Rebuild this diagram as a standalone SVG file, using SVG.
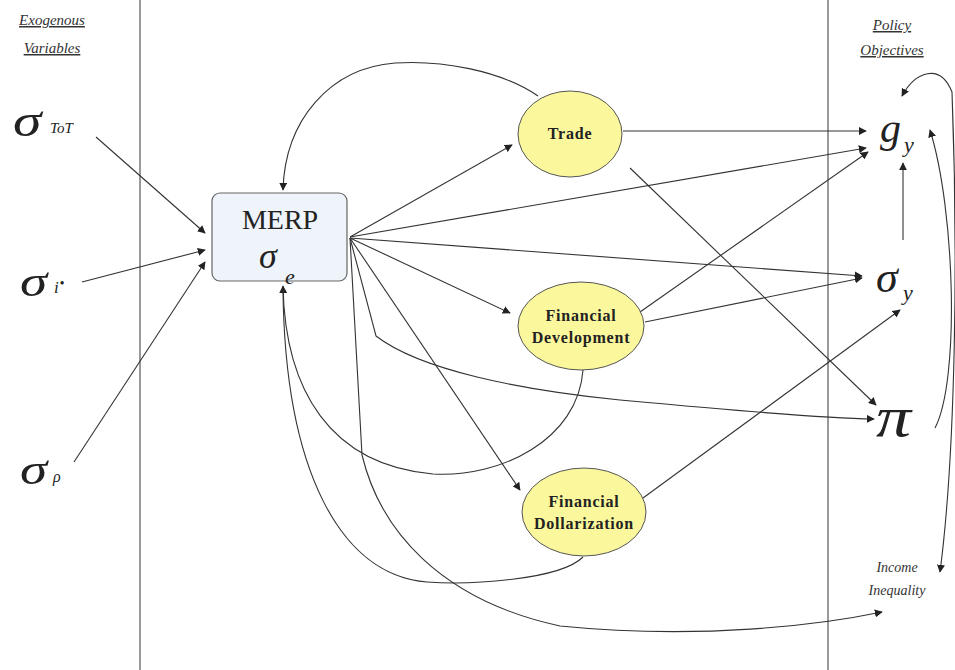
<svg xmlns="http://www.w3.org/2000/svg" width="955" height="670" viewBox="0 0 955 670">
<style>
.c{fill:none;stroke:#333;stroke-width:1.1}
.a{marker-end:url(#ah)}
.node{fill:#fbf79c;stroke:#555;stroke-width:1}
.nt{font-size:16px;font-weight:bold;fill:#222;text-anchor:middle;letter-spacing:0.8px}
.hd{font-size:15px;font-style:italic;fill:#333;text-anchor:middle;text-decoration:underline}
.sym{font-style:italic;fill:#222}
.lbl{font-size:14px;font-style:italic;fill:#333;text-anchor:middle}
</style>
<defs>
<marker id="ah" viewBox="0 0 10 10" refX="9" refY="5" markerWidth="8" markerHeight="8" markerUnits="userSpaceOnUse" orient="auto-start-reverse">
<path d="M0,0 L10,5 L0,10 z" fill="#222"/>
</marker>
</defs>
<rect width="955" height="670" fill="#fff"/>
<line x1="140" y1="0" x2="140" y2="670" stroke="#777" stroke-width="1.5"/>
<line x1="828" y1="0" x2="828" y2="670" stroke="#777" stroke-width="1.5"/>
<g id="headers" font-family="Liberation Serif, serif">
<text class="hd" x="52" y="25">Exogenous</text>
<text class="hd" x="52" y="53">Variables</text>
<text class="hd" x="892" y="30">Policy</text>
<text class="hd" x="892" y="55">Objectives</text>
</g>
<g id="connectors">
<line class="c a" x1="96" y1="137" x2="205" y2="233"/>
<line class="c a" x1="82" y1="282" x2="205" y2="250"/>
<line class="c a" x1="74" y1="462" x2="205" y2="262"/>
<path class="c a" d="M538,96 C500,70 440,60 395,63 C330,68 285,120 283,190"/>
<line class="c a" x1="350" y1="237" x2="512" y2="145"/>
<line class="c a" x1="350" y1="237" x2="866" y2="148"/>
<line class="c a" x1="350" y1="238" x2="862" y2="276"/>
<line class="c a" x1="350" y1="238" x2="510" y2="313"/>
<line class="c a" x1="350" y1="238" x2="520" y2="490"/>
<path class="c a" d="M350,238 L376,336 C420,370 520,390 620,400 C730,410 820,418 874,419"/>
<path class="c a" d="M350,238 L362,455 C380,530 440,600 560,626 C700,640 820,625 882,612"/>
<path class="c a" d="M583,370 C578,440 500,478 433,474 C330,465 285,390 283,286"/>
<path class="c" d="M583,557 C560,580 470,585 427,582 C340,575 285,470 283,290"/>
<line class="c a" x1="623" y1="131" x2="866" y2="131"/>
<line class="c a" x1="630" y1="168" x2="876" y2="405"/>
<line class="c a" x1="640" y1="312" x2="868" y2="152"/>
<line class="c a" x1="645" y1="322" x2="862" y2="278"/>
<line class="c a" x1="643" y1="498" x2="900" y2="310"/>
<line class="c a" x1="903" y1="240" x2="903" y2="163"/>
<path class="c a" d="M935,428 C960,380 955,210 930,130"/>
<path class="c" style="marker-start:url(#ah);marker-end:url(#ah)" d="M902,96 C915,72 940,62 952,92 C958,250 956,450 940,572"/>
</g>
<g id="merp">
<rect x="212" y="193" width="135" height="88" rx="8" fill="#eef4f9" stroke="#666" stroke-width="1.2"/>
<text x="280" y="229" font-family="Liberation Serif, serif" font-size="28" fill="#222" text-anchor="middle">MERP</text>
<text class="sym" x="259" y="268" font-family="Liberation Serif, serif" font-size="36">σ</text>
<text class="sym" x="285" y="284" font-family="Liberation Serif, serif" font-size="22">e</text>
</g>
<g id="trade" font-family="Liberation Serif, serif">
<ellipse class="node" cx="570" cy="134" rx="52" ry="43"/>
<text class="nt" x="570" y="139">Trade</text>
</g>
<g id="findev" font-family="Liberation Serif, serif">
<ellipse class="node" cx="581" cy="326" rx="63" ry="44"/>
<text class="nt" x="581" y="321">Financial</text>
<text class="nt" x="581" y="343">Development</text>
</g>
<g id="findoll" font-family="Liberation Serif, serif">
<ellipse class="node" cx="584" cy="512" rx="62" ry="44"/>
<text class="nt" x="584" y="507">Financial</text>
<text class="nt" x="584" y="529">Dollarization</text>
</g>
<g id="sigma_tot" font-family="Liberation Serif, serif">
<text class="sym" transform="translate(13,136) scale(1.25,1)" font-size="46">σ</text>
<text class="sym" x="50" y="133" font-size="15">ToT</text>
</g>
<g id="sigma_i" font-family="Liberation Serif, serif">
<text class="sym" transform="translate(20,296) scale(1.25,1)" font-size="44">σ</text>
<text class="sym" x="54" y="293" font-size="17">i</text>
<text x="60" y="287" font-family="Liberation Serif, serif" font-size="12" font-weight="bold" fill="#222">•</text>
</g>
<g id="sigma_rho" font-family="Liberation Serif, serif">
<text class="sym" transform="translate(20,484) scale(1.25,1)" font-size="44">σ</text>
<text class="sym" x="53" y="482" font-size="16">ρ</text>
</g>
<g id="g_y" font-family="Liberation Serif, serif">
<text class="sym" x="880" y="142" font-size="42">g</text>
<text class="sym" x="904" y="152" font-size="22">y</text>
</g>
<g id="sigma_y" font-family="Liberation Serif, serif">
<text class="sym" x="876" y="292" font-size="44">σ</text>
<text class="sym" x="903" y="300" font-size="22">y</text>
</g>
<g id="pi" font-family="Liberation Serif, serif">
<text class="sym" transform="translate(876,436) scale(1.25,1)" font-size="56">π</text>
</g>
<g id="inequality" font-family="Liberation Serif, serif">
<text class="lbl" x="897" y="572">Income</text>
<text class="lbl" x="897" y="595">Inequality</text>
</g>
</svg>
